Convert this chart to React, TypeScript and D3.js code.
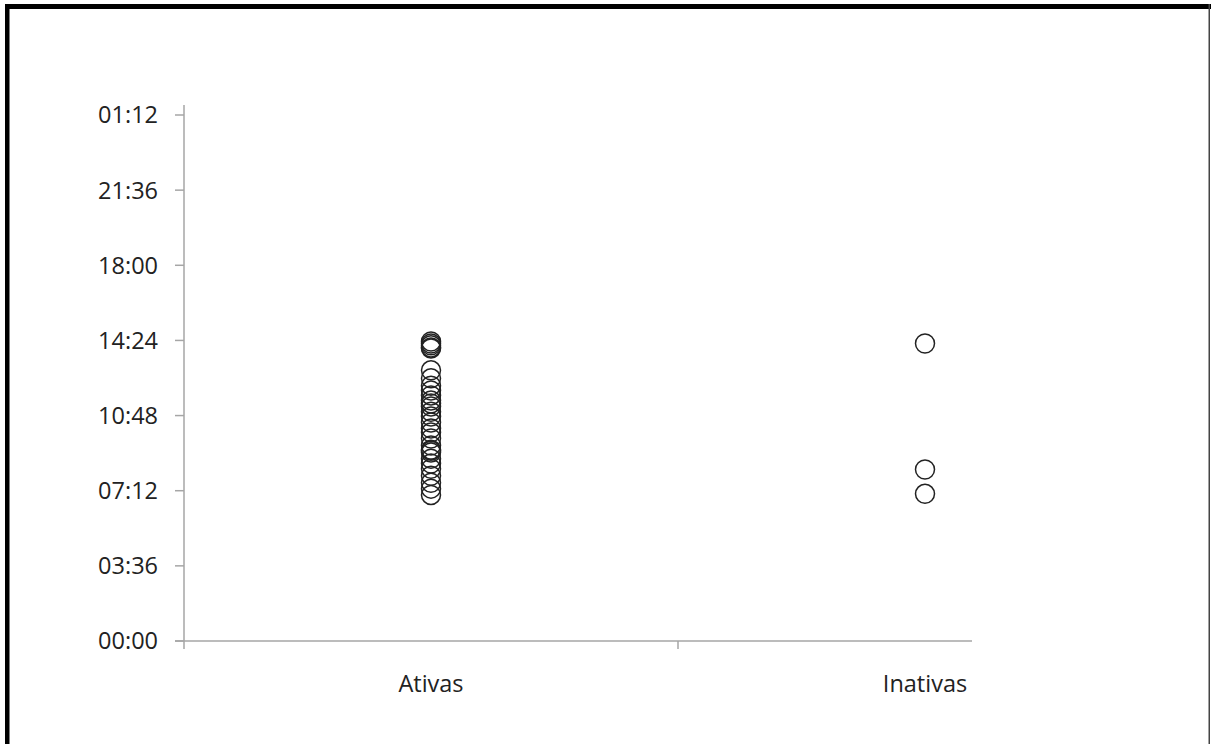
import React from "react";
import * as d3 from "d3";

const categories = ["Ativas", "Inativas"];
const ativas = [
  "14:21", "14:15", "14:10", "14:04", "14:01", "12:58", "12:35", "12:14", "12:00", "11:46",
  "11:31", "11:23", "11:14", "10:59", "10:45", "10:28", "10:11", "09:59", "09:42", "09:22",
  "09:10", "09:07", "09:02", "08:44", "08:30", "08:15", "07:55", "07:35", "07:18", "07:00",
];
const inativas = ["14:15", "08:13", "07:03"];
const yTickMinutes = [0, 216, 432, 648, 864, 1080, 1296, 1512];

const toMin = (s: string) => {
  const [h, m] = s.split(":").map(Number);
  return h * 60 + m;
};
const fmt = (m: number) => {
  const mm = m % 1440;
  const h = Math.floor(mm / 60);
  const mi = mm % 60;
  return `${String(h).padStart(2, "0")}:${String(mi).padStart(2, "0")}`;
};

export default function App() {
  const W = 1211, H = 744;
  const x0 = 184, x1 = 972, yTop = 115, yBot = 641;
  const y = d3.scaleLinear().domain([0, 1512]).range([yBot, yTop]);
  const x = d3.scaleLinear().domain([0.5, 2.5]).range([x0, x0 + 2 * 494]);
  const series = [ativas, inativas];
  const font = "'Open Sans', sans-serif";
  const axisColor = "#a6a6a6";
  return (
    <svg width={W} height={H} style={{ position: "absolute", left: 0, top: 0, background: "#fff" }}>
      <rect x={0} y={0} width={W} height={H} fill="#fff" />
      {/* frame */}
      <rect x={5} y={4} width={W - 5} height={5} fill="#000" />
      <rect x={5} y={4} width={4.5} height={H} fill="#000" />
      <rect x={1208.5} y={4} width={1.5} height={H} fill="#444" />
      {/* y axis */}
      <line x1={x0} x2={x0} y1={105} y2={649} stroke={axisColor} strokeWidth={1.5} />
      {yTickMinutes.map((t) => (
        <g key={t}>
          <line x1={x0 - 9} x2={x0} y1={y(t)} y2={y(t)} stroke={axisColor} strokeWidth={1.5} />
          <text x={158} y={y(t)} dy="0.36em" textAnchor="end" fontFamily={font} fontSize={23.5} fill="#222">
            {fmt(t)}
          </text>
        </g>
      ))}
      {/* x axis */}
      <line x1={x0 - 9} x2={x1} y1={yBot} y2={yBot} stroke={axisColor} strokeWidth={1.5} />
      <line x1={x(1.5)} x2={x(1.5)} y1={yBot} y2={yBot + 8} stroke={axisColor} strokeWidth={1.5} />
      {categories.map((c, i) => (
        <text key={c} x={x(i + 1)} y={692} textAnchor="middle" fontFamily={font} fontSize={23.5} fill="#222">
          {c}
        </text>
      ))}
      {series.map((s, i) =>
        s.map((v, j) => (
          <circle key={`${i}-${j}`} cx={x(i + 1)} cy={y(toMin(v))} r={9.5} fill="none" stroke="#222" strokeWidth={1.5} />
        ))
      )}
    </svg>
  );
}
